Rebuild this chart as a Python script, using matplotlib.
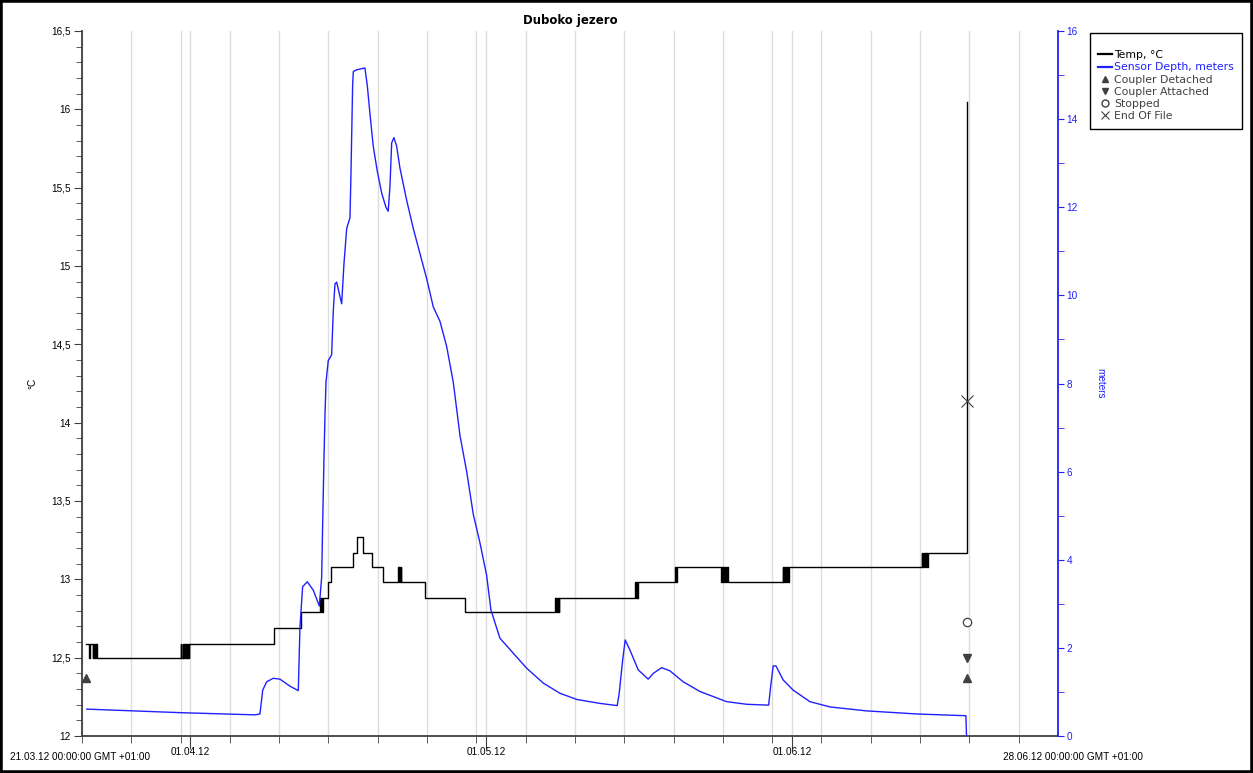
import numpy as np
import matplotlib
matplotlib.use("Agg")
import matplotlib.pyplot as plt
import matplotlib.dates as mdates
from matplotlib.ticker import MultipleLocator, FuncFormatter, FixedLocator
from matplotlib.lines import Line2D
from matplotlib.patches import Rectangle

plt.rcParams["font.family"] = ["Liberation Sans", "DejaVu Sans"]

START = np.datetime64("2012-03-21T00:00")
END = np.datetime64("2012-06-28T00:00")

# temperature, step series (days after 21.03.12 00:00, degC)
temp_days = [
    0.45, 0.75, 0.85, 1.09, 1.16, 1.23, 1.30, 1.37, 1.44, 1.49,
    10.01, 10.08, 10.21, 10.28, 10.35, 10.42, 10.49, 10.56, 10.63, 10.70, 10.77, 10.84, 10.90,
    19.47, 22.21,
    24.14, 24.20, 24.27, 24.33, 24.41,
    24.92, 25.22, 27.48, 27.89, 28.55, 29.41, 30.53,
    32.08, 32.14, 32.20, 32.26, 32.32, 32.38,
    34.80, 38.84,
    47.97, 48.05, 48.12, 48.20, 48.27, 48.34, 48.41,
    56.09, 56.17, 56.25, 56.33, 56.42,
    60.14, 60.22, 60.31,
    64.81, 64.90, 64.98, 65.07, 65.15, 65.24, 65.32, 65.40, 65.49,
    71.06, 71.10, 71.22, 71.26, 71.40, 71.47, 71.54, 71.60, 71.67,
    85.16, 85.24, 85.32, 85.40, 85.48, 85.56, 85.64, 85.72, 85.83,
    89.76,
]
temp_vals = [
    12.59, 12.50, 12.59, 12.50, 12.59, 12.50, 12.59, 12.50, 12.59, 12.50,
    12.59, 12.50, 12.59, 12.50, 12.59, 12.50, 12.59, 12.50, 12.59, 12.50, 12.59, 12.50, 12.59,
    12.69, 12.79,
    12.88, 12.79, 12.88, 12.79, 12.88,
    12.98, 13.08, 13.17, 13.27, 13.17, 13.08, 12.98,
    13.08, 12.98, 13.08, 12.98, 13.08, 12.98,
    12.88, 12.79,
    12.88, 12.79, 12.88, 12.79, 12.88, 12.79, 12.88,
    12.98, 12.88, 12.98, 12.88, 12.98,
    13.08, 12.98, 13.08,
    12.98, 13.08, 12.98, 13.08, 12.98, 13.08, 12.98, 13.08, 12.98,
    13.08, 12.98, 13.08, 12.98, 13.08, 12.98, 13.08, 12.98, 13.08,
    13.17, 13.08, 13.17, 13.08, 13.17, 13.08, 13.17, 13.08, 13.17,
    16.05,
]

# sensor depth (days, meters)
depth_days = [
    0.48, 9.94, 17.55, 18.05, 18.33, 18.73, 19.40, 20.08, 21.10, 21.94,
    22.11, 22.38, 22.85, 23.46, 24.07, 24.31, 24.41, 24.54, 24.65, 24.75,
    24.98, 25.32, 25.49, 25.66, 25.83, 26.34, 26.57, 26.85, 27.18, 27.28,
    27.45, 27.52, 27.86, 28.70, 28.94, 29.21, 29.54, 29.95, 30.40, 30.83,
    31.06, 31.24, 31.41, 31.64, 31.92, 32.25, 32.93, 33.60, 34.28, 34.96,
    35.63, 36.31, 36.99, 37.66, 38.34, 39.02, 39.69, 40.37, 41.04, 41.48,
    42.39, 43.74, 45.10, 46.79, 48.48, 50.17, 52.54, 54.29, 54.49, 54.84,
    55.10, 55.58, 56.42, 57.43, 57.94, 58.79, 59.63, 60.98, 62.68, 65.38,
    67.41, 69.65, 69.85, 70.11, 70.39, 71.13, 72.14, 73.83, 75.86, 79.58,
    84.65, 89.66, 89.72,
]
depth_vals = [
    0.61, 0.53, 0.48, 0.50, 1.04, 1.23, 1.31, 1.29, 1.13, 1.03,
    2.48, 3.39, 3.50, 3.31, 2.95, 3.60, 4.79, 6.25, 7.30, 8.03,
    8.52, 8.65, 9.65, 10.26, 10.30, 9.81, 10.71, 11.52, 11.76, 12.73,
    14.76, 15.08, 15.12, 15.16, 14.76, 14.12, 13.39, 12.82, 12.32, 12.00,
    11.91, 12.49, 13.46, 13.58, 13.38, 12.89, 12.16, 11.52, 10.95, 10.38,
    9.74, 9.41, 8.84, 8.03, 6.82, 6.00, 5.03, 4.38, 3.65, 2.86,
    2.22, 1.88, 1.54, 1.20, 0.97, 0.83, 0.74, 0.69, 0.97, 1.72,
    2.18, 1.95, 1.50, 1.29, 1.42, 1.55, 1.48, 1.23, 1.01, 0.78,
    0.72, 0.70, 1.12, 1.59, 1.59, 1.27, 1.04, 0.78, 0.66, 0.57,
    0.50, 0.46, 0.00,
]

# event markers (days, degC)
detached_days = [0.40, 89.76]
detached_vals = [12.37, 12.37]
attached_days = [89.76]
attached_vals = [12.50]
stopped_days = [89.76]
stopped_vals = [12.73]
eof_days = [89.76]
eof_vals = [14.14]

legend_labels = ["Temp, °C", "Sensor Depth, meters", "Coupler Detached",
                 "Coupler Attached", "Stopped", "End Of File"]


def to_time(days):
    secs = np.round(np.asarray(days, dtype=float) * 86400).astype("int64")
    return START + secs.astype("timedelta64[s]")


W, H = 1253, 773
L, R, T, B = 82, 1058, 31, 736
BLUE = "#2020ff"
GREY = "#404040"
FS = 7.2

fig = plt.figure(figsize=(W / 100, H / 100), dpi=100)
ax = fig.add_axes([L / W, 1 - B / H, (R - L) / W, (B - T) / H])
ax2 = ax.twinx()

ax.set_axisbelow(True)
ax.step(to_time(temp_days), temp_vals, where="post", color="black", lw=1.0, zorder=3)
ax2.plot(to_time(depth_days), depth_vals, color=BLUE, lw=1.0, zorder=2)

ax.plot(to_time(detached_days), detached_vals, ls="none", marker="^",
        color=GREY, ms=6, zorder=4)
ax.plot(to_time(attached_days), attached_vals, ls="none", marker="v",
        color=GREY, ms=6, zorder=4)
ax.plot(to_time(stopped_days), stopped_vals, ls="none", marker="o",
        mfc="white", mec=GREY, ms=6, mew=0.9, zorder=4)
ax.plot(to_time(eof_days), eof_vals, ls="none", marker="x",
        color=GREY, ms=9, mew=0.8, zorder=4)

# x axis
ax.set_xlim(START, END)
ax.xaxis.set_major_locator(mdates.MonthLocator(bymonthday=1))
ax.xaxis.set_major_formatter(mdates.DateFormatter("%d.%m.%y"))
ax.xaxis.set_minor_locator(FixedLocator(mdates.date2num(to_time(np.arange(0, 99, 5)))))
ax.grid(axis="x", which="both", color="#dddddd", lw=1.0)
ax.tick_params(axis="x", which="major", length=9, pad=-1, labelsize=FS, color=GREY)
ax.tick_params(axis="x", which="minor", length=5, color=GREY)

# left axis
ax.set_ylim(12, 16.5)
ax.yaxis.set_major_locator(MultipleLocator(0.5))
ax.yaxis.set_minor_locator(MultipleLocator(0.1))
ax.yaxis.set_major_formatter(FuncFormatter(lambda v, p: f"{v:g}".replace(".", ",")))
ax.tick_params(axis="y", which="major", length=6, pad=2, labelsize=FS, color=GREY)
ax.tick_params(axis="y", which="minor", length=4, color=GREY)
ax.set_ylabel("°C", fontsize=FS)
ax.yaxis.set_label_coords(-(L - 37) / (R - L), 0.5)

# right axis
ax2.set_ylim(0, 16)
ax2.yaxis.set_major_locator(MultipleLocator(2))
ax2.yaxis.set_minor_locator(MultipleLocator(1))
ax2.tick_params(axis="y", which="major", length=4, pad=2, labelsize=FS,
                color=BLUE, labelcolor=BLUE)
ax2.tick_params(axis="y", which="minor", length=4, color=BLUE)
ax2.set_ylabel("meters", fontsize=FS, color=BLUE, rotation=-90, va="center")
ax2.yaxis.set_label_coords((1100 - L) / (R - L), 0.5)

for s in ("top", "right"):
    ax.spines[s].set_visible(False)
for s in ("top", "left", "bottom"):
    ax2.spines[s].set_visible(False)
ax.spines["left"].set_color(GREY)
ax.spines["bottom"].set_color(GREY)
ax.spines["left"].set_linewidth(1.3)
ax.spines["bottom"].set_linewidth(1.3)
ax2.spines["right"].set_color(BLUE)
ax2.spines["right"].set_linewidth(1.3)

ax.set_title("Duboko jezero", fontsize=8.5, fontweight="bold", pad=5,
             family="DejaVu Sans")

fig.text(10 / W, 1 - 757 / H, "21.03.12 00:00:00 GMT +01:00", fontsize=FS, va="center")
fig.text(1003 / W, 1 - 757 / H, "28.06.12 00:00:00 GMT +01:00", fontsize=FS, va="center")

handles = [
    Line2D([], [], color="black", lw=1.6),
    Line2D([], [], color=BLUE, lw=1.6),
    Line2D([], [], ls="none", marker="^", color=GREY, ms=5),
    Line2D([], [], ls="none", marker="v", color=GREY, ms=5),
    Line2D([], [], ls="none", marker="o", mfc="white", mec=GREY, ms=5),
    Line2D([], [], ls="none", marker="x", color=GREY, ms=6, mew=0.8),
]
leg = fig.legend(handles, legend_labels, loc="upper left",
                 bbox_to_anchor=(1090 / W, 1 - 33 / H),
                 prop={"family": "DejaVu Sans", "size": 7.8},
                 title=" ", title_fontsize=6, fancybox=False, framealpha=1,
                 edgecolor="black", handlelength=1.3, handletextpad=0.15,
                 labelspacing=0.2, borderpad=0.75, borderaxespad=0)
leg.get_frame().set_linewidth(1.0)
for txt, c in zip(leg.get_texts(), ["black", BLUE, GREY, GREY, GREY, GREY]):
    txt.set_color(c)

fig.patches.append(Rectangle((0, 0), 1, 1, transform=fig.transFigure,
                             fill=False, edgecolor="black", lw=4))

fig.savefig("out.png", dpi=100)
